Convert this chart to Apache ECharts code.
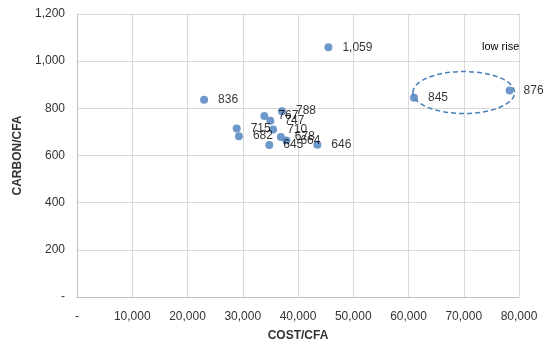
<!DOCTYPE html>
<html><head><meta charset="utf-8">
<script src="https://cdn.jsdelivr.net/npm/echarts@6/dist/echarts.min.js"></script>
<style>html,body{margin:0;padding:0;background:#fff}#c{width:550px;height:354px}</style>
</head><body><div id="c"></div>
<script>
var costs   = [23000, 45500, 37100, 33900, 35000, 35500, 28900, 29300, 36900, 37900, 34800, 43500, 61000, 78300];
var carbons = [836,   1059,  788,   767,   747,   710,   715,   682,   678,   664,   645,   646,   845,   876];
var xTicks = ['-', '10,000', '20,000', '30,000', '40,000', '50,000', '60,000', '70,000', '80,000'];
var yTicks = ['-', '200', '400', '600', '800', '1,000', '1,200'];
var ellipse = [[70000, 867, 9200, 89]];
var groupNote = 'low rise';

var FONT = 'Liberation Sans, Arial, sans-serif';
var chart = echarts.init(document.getElementById('c'));
var pts = costs.map(function(c, i){ return [c, carbons[i]]; });
chart.setOption({
  animation: false,
  grid: {left: 77, right: 31, top: 14, bottom: 57},
  xAxis: {
    type: 'value', min: 0, max: 80000, interval: 10000,
    name: 'COST/CFA', nameLocation: 'middle', nameGap: 33,
    nameTextStyle: {fontFamily: FONT, fontWeight: 'bold', fontSize: 12, color: '#333'},
    axisLine: {show: true, lineStyle: {color: '#bfbfbf'}},
    axisTick: {show: false},
    axisLabel: {fontFamily: FONT, fontSize: 12, color: '#333', margin: 14,
      formatter: function(v){ return xTicks[Math.round(v/10000)]; }},
    splitLine: {show: true, lineStyle: {color: '#d9d9d9'}}
  },
  yAxis: {
    type: 'value', min: 0, max: 1200, interval: 200,
    name: 'CARBON/CFA', nameLocation: 'middle', nameGap: 46, nameRotate: 90,
    nameTextStyle: {fontFamily: FONT, fontWeight: 'bold', fontSize: 12, color: '#333'},
    axisLine: {show: true, lineStyle: {color: '#bfbfbf'}},
    axisTick: {show: false},
    axisLabel: {fontFamily: FONT, fontSize: 12, color: '#333', margin: 12,
      formatter: function(v){ return yTicks[Math.round(v/200)]; }},
    splitLine: {show: true, lineStyle: {color: '#d9d9d9'}}
  },
  series: [{
    type: 'scatter', data: pts, symbolSize: 8,
    itemStyle: {color: '#4a7ebb'},
    label: {show: true, position: 'right', distance: 10,
      fontFamily: FONT, fontSize: 12, color: '#000',
      formatter: function(p){ return p.value[1].toLocaleString('en-US'); }}
  }, {
    type: 'custom', data: ellipse, silent: true, z: 1,
    renderItem: function(params, api){
      var c = api.coord([api.value(0), api.value(1)]);
      var s = api.size([api.value(2), api.value(3)]);
      return {type: 'ellipse', shape: {cx: c[0], cy: c[1], rx: s[0], ry: s[1]},
        style: {fill: 'none', stroke: '#4a7ebb', lineWidth: 1.5, lineDash: [5, 3]}};
    }
  }],
  graphic: [{type: 'text', left: 482, top: 41,
    style: {text: groupNote, fontFamily: FONT, fontSize: 11, fill: '#000'}}]
});
</script></body></html>
